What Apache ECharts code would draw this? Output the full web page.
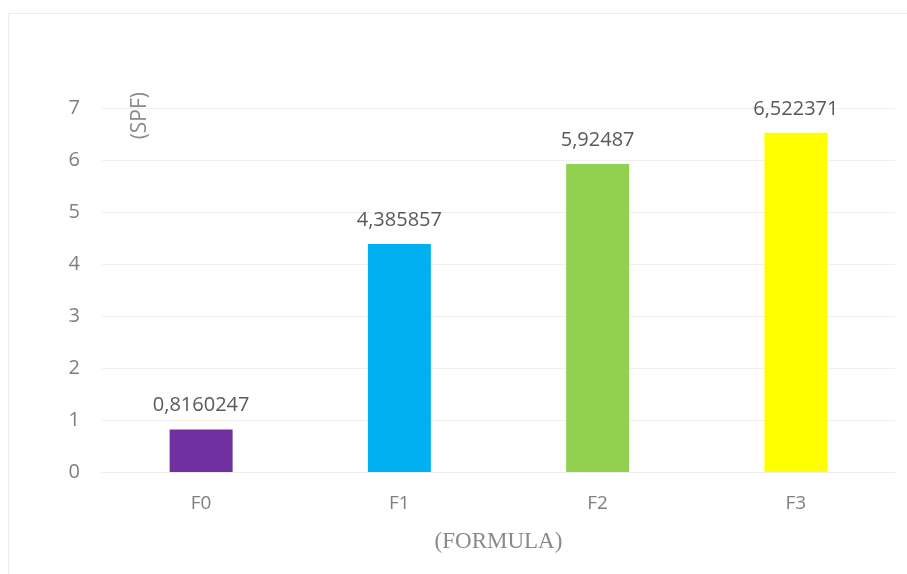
<!DOCTYPE html>
<html><head><meta charset="utf-8">
<script src="https://cdn.jsdelivr.net/npm/echarts@6/dist/echarts.min.js"></script>
<style>html,body{margin:0;padding:0;background:#fff}#c{width:907px;height:574px}</style>
</head><body><div id="c"></div>
<script>
var categories = ["F0", "F1", "F2", "F3"];
var values = [0.8160247, 4.385857, 5.92487, 6.522371];
var labels = ["0,8160247", "4,385857", "5,92487", "6,522371"];
var colors = ["#7030A0", "#00B0F0", "#92D050", "#FFFF00"];
var yTicks = [0, 1, 2, 3, 4, 5, 6, 7];

var chart = echarts.init(document.getElementById('c'));
chart.setOption({
  animation: false,
  backgroundColor: '#fff',
  graphic: [
    {type: 'rect', shape: {x: 8.5, y: 13.5, width: 920, height: 600}, style: {fill: 'none', stroke: '#ececec', lineWidth: 1}, silent: true},
    {type: 'text', left: 130, top: 92, rotation: Math.PI / 2, style: {text: '(SPF)', fill: '#8a8a8a', font: '21px "Open Sans", sans-serif'}}
  ],
  grid: {left: 102, right: 12, top: 108, bottom: 102},
  xAxis: {
    type: 'category', data: categories,
    axisLine: {lineStyle: {color: '#eeeeee'}},
    axisTick: {show: false},
    axisLabel: {color: '#7f7f7f', fontSize: 19, fontFamily: '"Open Sans", sans-serif', margin: 22},
    name: '(FORMULA)', nameLocation: 'middle', nameGap: 58,
    nameTextStyle: {color: '#8a8a8a', fontSize: 23, fontFamily: '"Liberation Serif", serif'}
  },
  yAxis: {
    type: 'value', min: yTicks[0], max: yTicks[yTicks.length - 1], interval: 1,
    axisLine: {show: false}, axisTick: {show: false},
    splitLine: {lineStyle: {color: '#f0f0f0'}},
    axisLabel: {color: '#7f7f7f', fontSize: 20, fontFamily: '"Open Sans", sans-serif', margin: 22}
  },
  series: [{
    type: 'bar', barWidth: 63,
    data: values.map(function (v, i) { return {value: v, itemStyle: {color: colors[i]}}; }),
    label: {show: true, position: 'top', distance: 14, color: '#595959', fontSize: 20,
      fontFamily: '"Open Sans", sans-serif',
      formatter: function (p) { return labels[p.dataIndex]; }}
  }]
});
</script></body></html>
